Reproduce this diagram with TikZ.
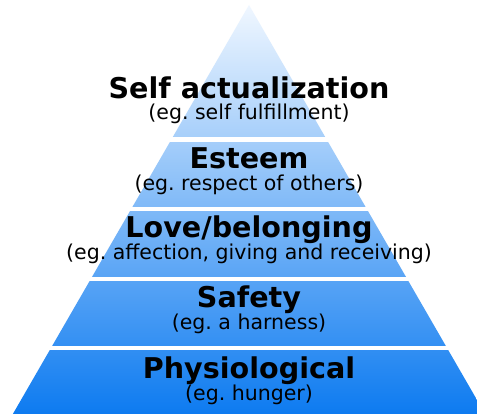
\documentclass[tikz,border=0pt]{standalone}
\usepackage{fontspec}
\setmainfont{DejaVu Sans}
\frenchspacing
\definecolor{pyrtop}{RGB}{240,247,255}
\definecolor{pyrbot}{RGB}{10,121,240}
\begin{document}
\begin{tikzpicture}[x=1pt,y=-1pt,
  title/.style={anchor=base,inner sep=0pt,font=\fontsize{28.6}{30}\selectfont\bfseries},
  sub/.style={anchor=base,inner sep=0pt,font=\fontsize{20.5}{22}\selectfont},
  gap/.style={draw=white,line width=4.5pt}]
\useasboundingbox (0,0) rectangle (477,414);
\fill[white] (0,0) rectangle (477,414);
\coordinate (apex) at (249,5);
\coordinate (bl) at (9.4,420);
\coordinate (br) at (488.6,420);
\shade[top color=pyrtop,bottom color=pyrbot] (apex) -- (bl) -- (br) -- cycle;
\coordinate (g1l) at (0,139.5); \coordinate (g1r) at (477,139.5);
\coordinate (g2l) at (0,209);   \coordinate (g2r) at (477,209);
\coordinate (g3l) at (0,279);   \coordinate (g3r) at (477,279);
\coordinate (g4l) at (0,348);   \coordinate (g4r) at (477,348);
\draw[gap] (g1l) -- (g1r);
\draw[gap] (g2l) -- (g2r);
\draw[gap] (g3l) -- (g3r);
\draw[gap] (g4l) -- (g4r);
\node[title] (t1) at (249,99) {Self actualization};
\node[sub] (s1) at (249,120) {(eg. self fulfillment)};
\node[title] (t2) at (249,169) {Esteem};
\node[sub] (s2) at (249,191) {(eg. respect of others)};
\node[title] (t3) at (249,238) {Love/belonging};
\node[sub] (s3) at (249,260) {(eg. affection, giving and receiving)};
\node[title] (t4) at (249,308) {Safety};
\node[sub] (s4) at (249,330) {(eg. a harness)};
\node[title] (t5) at (249,378) {Physiological};
\node[sub] (s5) at (249,400) {(eg. hunger)};
\end{tikzpicture}
\end{document}
